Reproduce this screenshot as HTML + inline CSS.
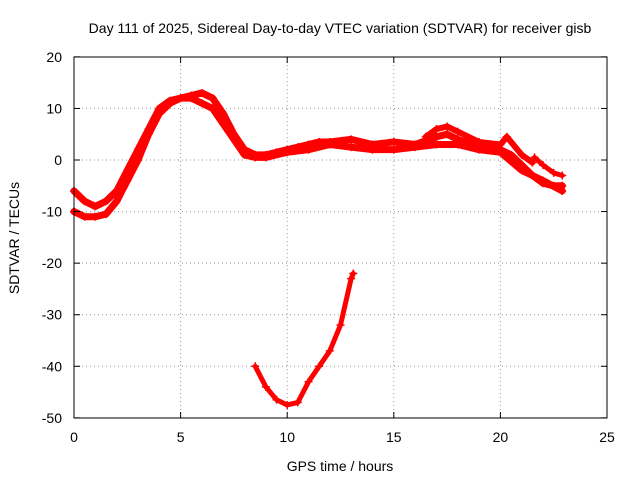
<!DOCTYPE html>
<html><head><meta charset="utf-8"><style>
body{margin:0;background:#fff}
svg{display:block;font-family:"Liberation Sans",sans-serif}
</style></head><body>
<svg id="chart" width="640" height="480">
<rect width="640" height="480" fill="#fff"/>
<g id="grid"></g>
<g id="series"></g>
<rect x="74" y="57" width="533" height="361" fill="none" stroke="#000" stroke-width="1"/>
<g id="ticks"></g>
<text x="340" y="33" font-size="14" text-anchor="middle">Day 111 of 2025, Sidereal Day-to-day VTEC variation (SDTVAR) for receiver gisb</text>
<text x="340" y="471" font-size="14" text-anchor="middle">GPS time / hours</text>
<text transform="translate(19,238) rotate(-90)" font-size="14" text-anchor="middle">SDTVAR / TECUs</text>
</svg>
<script>
const xTicks=[0,5,10,15,20,25];
const yTicks=[20,10,0,-10,-20,-30,-40,-50];
const trackAx=[0,0.5,1,1.5,2,2.5,3,3.5,4,4.5,5,5.5,6,6.5,7,7.5,8,8.5,9,9.5,10,10.5,11,11.5,12,13,14,15,16,17,17.5,18,19,20,20.5,21,21.5,22,22.5,22.9];
const trackAy=[-6,-8,-9,-8,-6,-2,2,6,10,11.5,12,12.5,13,12,9,5,2,1,1,1.5,2,2.5,3,3.5,3.5,4,3,3.5,3,4.5,5,4,2.5,2,1,-1,-3,-4.5,-5,-5];
const trackBx=[0,0.5,1,1.5,2,2.5,3,3.5,4,4.5,5,5.5,6,6.5,7,7.5,8,8.5,9,10,11,12,13,14,15,16,17,18,19,20,21,22,22.9];
const trackBy=[-10,-11,-11,-10.5,-8,-4,0,5,9,11,12,12,11,10,7,4,1,0.5,0.5,1.5,2,3,2.5,2,2,2.5,3,3,2,1.5,-2,-4,-6];
const trackCx=[16.5,17,17.5,18,19,20,20.3,21,21.5];
const trackCy=[4.5,6,6.5,5.5,3.5,3,4.5,1,-0.5];
const trackDx=[21.6,22,22.5,22.9];
const trackDy=[0.5,-1,-2.5,-3];
const arcX=[8.5,9,9.5,10,10.5,11,11.5,12,12.5,13,13.1];
const arcY=[-40,-44,-46.5,-47.5,-47,-43,-40,-37,-32,-23,-22];
const X=v=>74+v*(533/25);
const Y=v=>160-v*(361/70);
const NS="http://www.w3.org/2000/svg";
const grid=document.getElementById('grid'),ticks=document.getElementById('ticks'),series=document.getElementById('series');
function mk(tag,attrs,parent){const e=document.createElementNS(NS,tag);for(const k in attrs)e.setAttribute(k,attrs[k]);parent.appendChild(e);return e;}
xTicks.forEach(t=>{
 if(t>0&&t<25){const g=mk('line',{x1:X(t),x2:X(t),y1:57,y2:418,stroke:'#999','stroke-dasharray':'1,3'},grid);
 
 }
 const a=mk('line',{x1:X(t),x2:X(t),y1:418,y2:412,stroke:'#000'},ticks);
 
 
 const b=mk('line',{x1:X(t),x2:X(t),y1:57,y2:63,stroke:'#000'},ticks);
 
 
 const l=mk('text',{x:X(t),y:442,'font-size':14,'text-anchor':'middle'},ticks);l.textContent=t;
 
 
});
yTicks.forEach(t=>{
 if(t<20&&t>-50){const g=mk('line',{x1:74,x2:607,y1:Y(t),y2:Y(t),stroke:'#999','stroke-dasharray':'1,3'},grid);
 
 }
 const a=mk('line',{x1:74,x2:80,y1:Y(t),y2:Y(t),stroke:'#000'},ticks);
 
 
 const b=mk('line',{x1:601,x2:607,y1:Y(t),y2:Y(t),stroke:'#000'},ticks);
 
 
 const l=mk('text',{x:62,y:Y(t)+5,'font-size':14,'text-anchor':'end'},ticks);l.textContent=t;
 
 
});
function draw(xs,ys,name,w){
 const pts=xs.map((x,i)=>X(x)+','+Y(ys[i])).join(' ');
 const p=mk('polyline',{points:pts,fill:'none',stroke:'#f00','stroke-width':w,'stroke-linejoin':'round','stroke-linecap':'round'},series);
 
 
 xs.forEach((x,i)=>{
  const m=mk('path',{d:`M${X(x)-4},${Y(ys[i])}h8M${X(x)},${Y(ys[i])-4}v8`,stroke:'#f00','stroke-width':1.5},series);
  
  
 });
}
draw(trackAx,trackAy,'track-a',7);
draw(trackBx,trackBy,'track-b',7);
draw(trackCx,trackCy,'track-c',6);
draw(trackDx,trackDy,'track-d',5);
draw(arcX,arcY,'lower-arc',5);
</script>
</body></html>
